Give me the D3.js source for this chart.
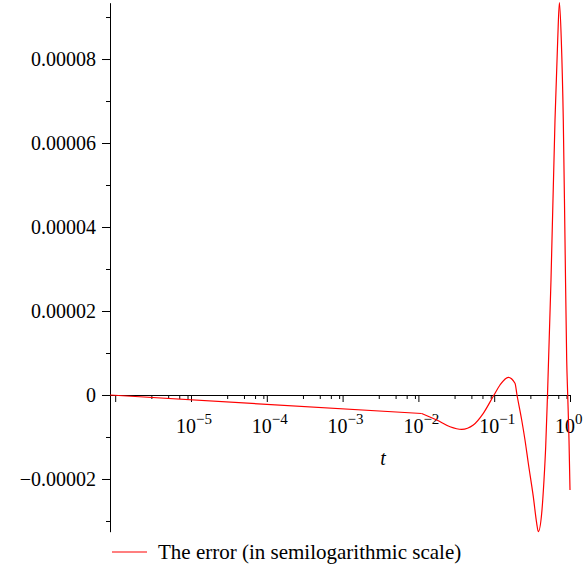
<!DOCTYPE html>
<html>
<head>
<meta charset="utf-8">
<script src="https://cdn.jsdelivr.net/npm/d3@7"></script>
<style>
  html, body { margin: 0; padding: 0; background: #fff; }
  svg { display: block; }
  text { font-family: "Liberation Serif", "DejaVu Serif", serif; fill: #000; }
</style>
</head>
<body>
<svg id="chart" width="587" height="573"></svg>
<script>
// ---- data ----
const tValues = [8.54e-7, 0.01105, 0.01743, 0.02612, 0.03725, 0.05302, 0.07181, 0.0994,
  0.1193, 0.1535, 0.188, 0.1999, 0.2306, 0.2548, 0.2818, 0.328, 0.3637, 0.3818,
  0.4232, 0.4539, 0.4779, 0.5049, 0.5614, 0.6341, 0.6883, 0.7245, 0.7677, 0.8157,
  0.859, 0.9046, 0.9326, 0.9701, 1.0];
const errValues = [0, -4.405e-6, -5.95e-6, -7.55e-6, -8.17e-6, -7.14e-6, -4.36e-6, 0,
  2.38e-6, 4.21e-6, 2.79e-6, 0, -5.95e-6, -1.071e-5, -1.626e-5, -2.421e-5, -3.055e-5, -3.255e-5,
  -2.817e-5, -2.024e-5, -1.231e-5, 0, 2.738e-5, 6.548e-5, 8.453e-5, 9.341e-5, 8.453e-5, 6.548e-5,
  3.69e-5, 8.33e-6, 0, -1.071e-5, -2.262e-5];

const xMajorExponents = [-6, -5, -4, -3, -2, -1, 0];
const xLabelExponents = [-5, -4, -3, -2, -1, 0];
const xMinorMultipliers = [3, 5, 7, 9];
const yMajorTicks = [-0.00002, 0, 0.00002, 0.00004, 0.00006, 0.00008];
const yTickLabels = ["\u22120.00002", "0", "0.00002", "0.00004", "0.00006", "0.00008"];
const yMinorTicks = [-0.00003, -0.00001, 0.00001, 0.00003, 0.00005, 0.00007, 0.00009];
const xAxisTitle = "t";
const legendLabel = "The error (in semilogarithmic scale)";

// ---- scales ----
const svg = d3.select("#chart");
const x = d3.scaleLog().domain([8.54e-7, 1]).range([110, 570]);
const y = d3.scaleLinear().domain([d3.min(errValues), d3.max(errValues)]).range([531.7, 2.7]);

const y0 = Math.round(y(0));

// ---- y axis ----
const yAxisMinor = d3.axisLeft(y).tickValues(yMinorTicks).tickSize(4).tickFormat("").tickSizeOuter(0);
svg.append("g").attr("transform", "translate(110,0)").call(yAxisMinor)
  .call(g => g.select(".domain").remove());
const yAxis = d3.axisLeft(y).tickValues(yMajorTicks).tickSize(8).tickPadding(6).tickSizeOuter(0)
  .tickFormat((d, i) => yTickLabels[i]);
svg.append("g").attr("transform", "translate(110,0)").call(yAxis)
  .call(g => g.selectAll("text").style("font-family", '"Liberation Serif", serif').style("font-size", "20px"));

// ---- x axis ----
const minorVals = [];
xMajorExponents.slice(0, -1).forEach(e => xMinorMultipliers.forEach(m => minorVals.push(m * Math.pow(10, e))));
const xAxisMinor = d3.axisBottom(x).tickValues(minorVals).tickSize(4).tickFormat("").tickSizeOuter(0);
svg.append("g").attr("transform", `translate(0,${y0})`).call(xAxisMinor);
const xAxisMajor = d3.axisBottom(x).tickValues(xMajorExponents.map(e => Math.pow(10, e)))
  .tickSize(7).tickFormat("").tickSizeOuter(0);
svg.append("g").attr("transform", `translate(0,${y0})`).call(xAxisMajor)
  .call(g => g.select(".domain").remove());

const xl = svg.append("g");
xLabelExponents.forEach(e => {
  const px = x(Math.pow(10, e));
  const t = xl.append("text").attr("x", px - 15).attr("y", 433).style("font-size", "20px");
  t.append("tspan").text("10");
  t.append("tspan").attr("dy", -9.5).style("font-size", "15px").text(e < 0 ? "\u2212" + Math.abs(e) : String(e));
});

svg.append("text").attr("x", 383).attr("y", 465).attr("text-anchor", "middle")
  .style("font-size", "20px").style("font-style", "italic").text(xAxisTitle);

// ---- curve: first (sparse) segment straight, the rest smooth ----
const data = tValues.map((t, i) => ({ t, v: errValues[i] }));
const straight = d3.line().x(d => x(d.t)).y(d => y(d.v));
const smooth = d3.line().x(d => x(d.t)).y(d => y(d.v)).curve(d3.curveMonotoneX);
svg.append("path").datum(data.slice(0, 2)).attr("d", straight)
  .attr("fill", "none").attr("stroke", "#ff0000").attr("stroke-width", 1.2);
svg.append("path").datum(data.slice(1)).attr("d", smooth)
  .attr("fill", "none").attr("stroke", "#ff0000").attr("stroke-width", 1.2);

// ---- legend ----
svg.append("line").attr("x1", 112).attr("x2", 147).attr("y1", 552).attr("y2", 552)
  .attr("stroke", "#ff0000").attr("stroke-width", 1.2);
svg.append("text").attr("x", 158).attr("y", 559).style("font-size", "21px").text(legendLabel);
</script>
</body>
</html>
